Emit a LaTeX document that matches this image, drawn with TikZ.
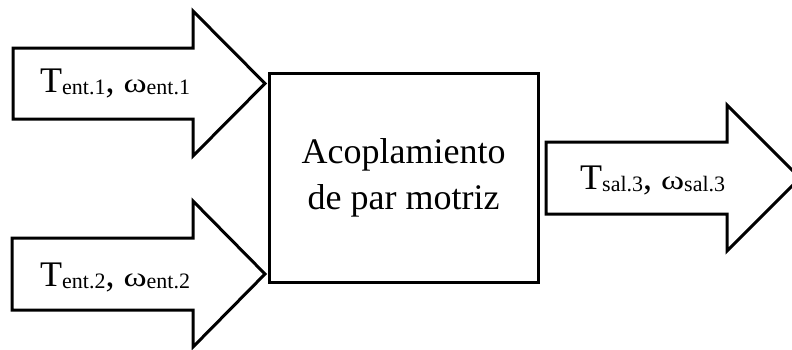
\documentclass[tikz,border=0pt]{standalone}
\usepackage{fontspec}
\usepackage{graphicx}
\setmainfont{Liberation Serif}
\newcommand\subtx[1]{\raisebox{-2.5pt}{\fontsize{22}{22}\selectfont #1}}
\newcommand\omg{\scalebox{1.3}[1]{\fontsize{27}{27}\selectfont ω}}
\tikzset{
  blockarrow/.style={draw=black, line width=3pt, fill=white, line join=miter},
  lbl/.style={inner sep=0pt, anchor=base west, font=\fontsize{36}{36}\selectfont},
  mainbox/.style={draw=black, line width=3pt, fill=white, inner sep=0pt, align=center,
    minimum width=269pt, minimum height=209pt, font=\fontsize{36}{46}\selectfont}
}
\begin{document}
\begin{tikzpicture}[x=1pt,y=-1pt]
\useasboundingbox (0,0) rectangle (792,349);
% input arrow 1
\draw[blockarrow] (13,48) -- (193,48) -- (193,11) -- (265,83.5) -- (193,156) -- (193,119) -- (13,119) -- cycle;
% input arrow 2
\draw[blockarrow] (12,238) -- (193,238) -- (193,201) -- (265,274) -- (193,347) -- (193,310) -- (12,310) -- cycle;
% output arrow
\draw[blockarrow] (546,142) -- (727,142) -- (727,105) -- (800,178) -- (727,251) -- (727,214) -- (546,214) -- cycle;
% main box
\node[mainbox] (box) at (403.5,177.5) {Acoplamiento\\de par motriz};
% labels
\node[lbl] (l1) at (40,92) {T\subtx{ent.1}, \omg\subtx{ent.1}};
\node[lbl] (l2) at (40,286) {T\subtx{ent.2}, \omg\subtx{ent.2}};
\node[lbl] (l3) at (580,189) {T\subtx{sal.3}, \omg\subtx{sal.3}};
\end{tikzpicture}
\end{document}
